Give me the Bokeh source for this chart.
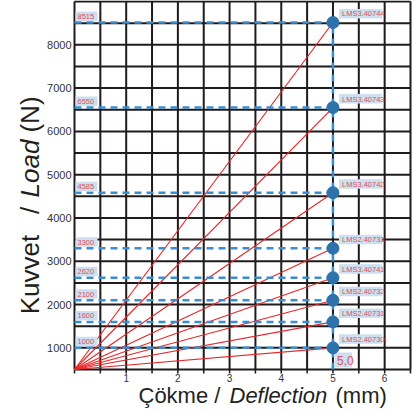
import math
from bokeh.plotting import figure
from bokeh.models import Range1d, ColumnDataSource
from bokeh.core.properties import value
from bokeh.embed import file_html
from bokeh.resources import INLINE

# ---- data ----
loads = [1000, 1600, 2100, 2620, 3300, 4585, 6550, 8515]
load_labels = ["1000", "1600", "2100", "2620", "3300", "4585", "6550", "8515"]
codes = ["LMS2.40730", "LMS2.40731", "LMS2.40732", "LMS3.40741",
         "LMS2.40733", "LMS3.40742", "LMS3.40743", "LMS3.40744"]
deflection = [5.0] * len(loads)
start_load = 500                      # bottom of the load axis (lines start here)
x_ticks = [1, 2, 3, 4, 5, 6]
x_tick_labels = ["1", "2", "3", "4", "5", "6"]
y_ticks = [1000, 2000, 3000, 4000, 5000, 6000, 7000, 8000]
y_tick_labels = ["1000", "2000", "3000", "4000", "5000", "6000", "7000", "8000"]
grid_x = [0, 0.5, 1, 1.5, 2, 2.5, 3, 3.5, 4, 4.5, 5, 5.5, 6, 6.5]
grid_y = [500, 1000, 1500, 2000, 2500, 3000, 3500, 4000, 4500,
          5000, 5500, 6000, 6500, 7000, 7500, 8000, 8500, 9000]
deflection_label = "5,0"

# ---- layout (pixel geometry of the chart area) ----
W, H = 414, 412
X0, X1 = grid_x[0], grid_x[-1]
Y0, Y1 = grid_y[0], grid_y[-1]
PX_L, PX_R, PY_B, PY_T = 74, 410, 369, 1
XS = (PX_R - PX_L) / (X1 - X0)
YS = (PY_B - PY_T) / (Y1 - Y0)

def xd(px):
    return X0 + (px - PX_L) / XS

def yd(py):
    return Y0 + (PY_B - py) / YS

p = figure(output_backend="svg", toolbar_location=None, width=W, height=H,
           min_border=0, x_axis_type=None, y_axis_type=None,
           x_range=Range1d(xd(0), xd(W)), y_range=Range1d(yd(H), yd(0)))
p.background_fill_color = "white"
p.border_fill_color = "white"
p.outline_line_color = None

ink = "#1f1a1b"
# grid
p.segment(x0=grid_x, y0=[Y0] * len(grid_x), x1=grid_x, y1=[Y1] * len(grid_x),
          line_color=ink, line_width=2)
p.segment(x0=[X0] * len(grid_y), y0=grid_y, x1=[X1] * len(grid_y), y1=grid_y,
          line_color=ink, line_width=2)
# x tick marks
p.segment(x0=grid_x, y0=[Y0] * len(grid_x), x1=grid_x,
          y1=[Y0 - 4 / YS] * len(grid_x), line_color=ink, line_width=1.5)
# tick labels
p.text(x=x_ticks, y=[yd(373)] * len(x_ticks), text=x_tick_labels,
       text_font=value("Liberation Sans"), text_font_size=value("10px"),
       text_color="#333333", text_align="center", text_baseline="top")
p.text(x=[xd(71)] * len(y_ticks), y=y_ticks, text=y_tick_labels,
       text_font=value("Liberation Sans"), text_font_size=value("11px"),
       text_color="#333333", text_align="right", text_baseline="middle")

n = len(loads)
src = ColumnDataSource(dict(
    x0=[X0] * n, y0=[start_load] * n,
    x1=deflection, y1=loads, code=codes, lab=load_labels,
    lx=[X0 + 3 / XS] * n,
    ly=[v + 6 / YS for v in loads],
    cx=[d + 9 / XS for d in deflection],
    cy=[v + 8.5 / YS for v in loads],
    lb_l=[X0 + 1 / XS] * n, lb_r=[X0 + 23 / XS] * n,
    lb_b=[v + 1.5 / YS for v in loads], lb_t=[v + 11 / YS for v in loads],
    cb_l=[d + 6 / XS for d in deflection], cb_r=[d + 49 / XS for d in deflection],
    cb_b=[v + 4 / YS for v in loads], cb_t=[v + 13.5 / YS for v in loads],
))

box_col = "#cddff1"
red = "#e8282b"
blue = "#3b8ed0"
# red load lines
p.segment(x0="x0", y0="y0", x1="x1", y1="y1", source=src,
          line_color=red, line_width=1.2)
# blue dashed guides
p.segment(x0="x0", y0="y1", x1="x1", y1="y1", source=src,
          line_color=blue, line_width=2.5, line_dash="7 5")
p.segment(x0=[deflection[0]], y0=[start_load], x1=[deflection[0]], y1=[max(loads)],
          line_color=blue, line_width=2.5, line_dash="7 5")
# label boxes
p.quad(left="lb_l", right="lb_r", bottom="lb_b", top="lb_t", source=src,
       fill_color=box_col, line_color=None)
p.quad(left="cb_l", right="cb_r", bottom="cb_b", top="cb_t", source=src,
       fill_color=box_col, line_color=None)
p.quad(left=[deflection[0] + 2 / XS], right=[deflection[0] + 19 / XS],
       bottom=[start_load + 2 / YS], top=[start_load + 17 / YS],
       fill_color=box_col, line_color=None)
# points
p.scatter(x="x1", y="y1", source=src, size=12, fill_color="#2d72ab",
          line_color="#2d72ab")

lab_red = "#e0505a"
p.text(x="lx", y="ly", text="lab", source=src, text_font=value("Liberation Sans"),
       text_font_size=value("7.5px"), text_color=lab_red,
       text_baseline="middle", text_align="left")
p.text(x="cx", y="cy", text="code", source=src, text_font=value("Liberation Sans"),
       text_font_size=value("7.5px"), text_color=lab_red,
       text_baseline="middle", text_align="left")
p.text(x=[deflection[0] + 4 / XS], y=[start_load + 9.5 / YS], text=[deflection_label],
       text_font=value("Liberation Sans"), text_font_size=value("12px"),
       text_color=lab_red, text_baseline="middle", text_align="left")

# axis titles (mixed upright / italic)
title_col = "#231f20"
for txt, px, style in [("Çökme /", 138, "normal"), ("Deflection", 229, "italic"),
                       ("(mm)", 335, "normal")]:
    p.text(x=[xd(px)], y=[yd(395)], text=[txt], text_font=value("Liberation Sans"),
           text_font_size=value("22px"), text_font_style=style,
           text_color=title_col, text_baseline="middle", text_align="left")

for txt, py, style in [("Kuvvet", 274, "normal"), ("/", 210, "normal"),
                       ("Load", 168, "italic"), ("(N)", 114, "normal")]:
    p.text(x=[xd(29)], y=[yd(py)], text=[txt], text_font=value("Liberation Sans"),
           text_font_size=value("26px"), text_font_style=style,
           text_color=title_col, text_baseline="middle", text_align="center",
           angle=math.pi / 2)

open("out.html", "w").write(file_html(p, INLINE))
